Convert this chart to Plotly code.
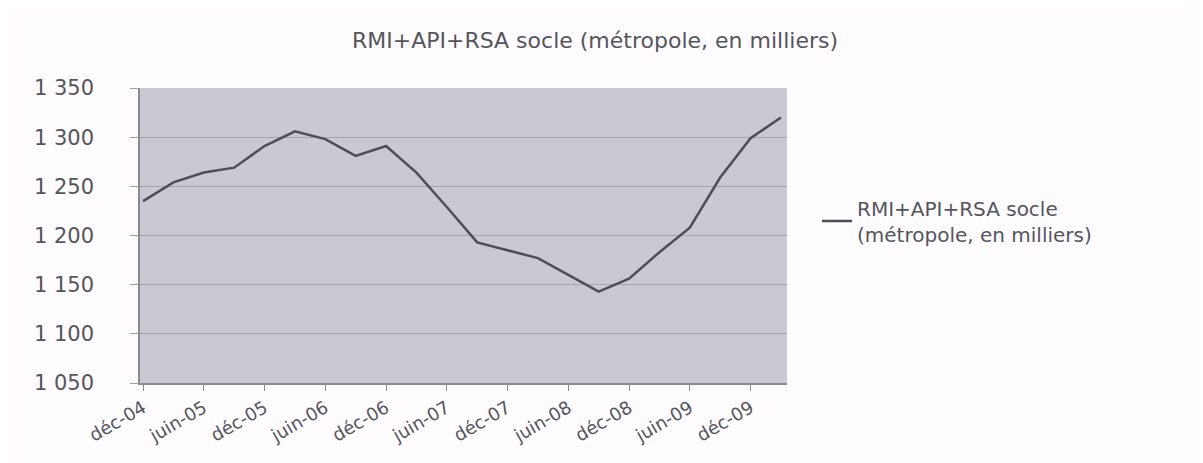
import plotly.graph_objects as go

periods = ["déc-04", "mars-05", "juin-05", "sept-05", "déc-05", "mars-06", "juin-06", "sept-06",
           "déc-06", "mars-07", "juin-07", "sept-07", "déc-07", "mars-08", "juin-08", "sept-08",
           "déc-08", "mars-09", "juin-09", "sept-09", "déc-09", "mars-10"]
values = [1235, 1254, 1264, 1269, 1291, 1306, 1298, 1281, 1291, 1264, 1229, 1193,
          1185, 1177, 1160, 1143, 1156, 1183, 1208, 1259, 1299, 1320]
tick_labels = ["déc-04", "juin-05", "déc-05", "juin-06", "déc-06", "juin-07",
               "déc-07", "juin-08", "déc-08", "juin-09", "déc-09"]
y_ticks = [1050, 1100, 1150, 1200, 1250, 1300, 1350]
y_tick_text = ["1 050", "1 100", "1 150", "1 200", "1 250", "1 300", "1 350"]
series_name = "RMI+API+RSA socle<br>(métropole, en milliers)"
title_text = "RMI+API+RSA socle (métropole, en milliers)"

x_idx = list(range(len(periods)))
tick_idx = [periods.index(t) for t in tick_labels]

FONT = "DejaVu Sans"
TXT = "#55555c"
OFF = 8  # page offset of the figure inside the browser window
W, H = 1203, 463
L, R, T, B = 140, 787, 88, 383  # plot area in window pixels

fig = go.Figure()
fig.add_trace(go.Scatter(
    x=x_idx, y=values, mode="lines", name=series_name,
    line=dict(color="#4e4e58", width=2.5),
    showlegend=True,
))

fig.update_layout(
    width=W, height=H,
    margin=dict(l=L - OFF, r=W + OFF - R, t=T - OFF, b=H + OFF - B),
    paper_bgcolor="#fefcfe",
    plot_bgcolor="#cac9d1",
    title=dict(text=title_text, x=(595 - OFF) / W, xanchor="center", y=1 - (40 - OFF) / H,
               yanchor="middle", font=dict(family=FONT, size=22, color=TXT)),
    showlegend=True,
    legend=dict(x=(817 - L) / (R - L), xanchor="left", y=(B - 221) / (B - T), yanchor="middle",
                font=dict(family=FONT, size=20, color=TXT), bgcolor="rgba(0,0,0,0)",
                itemwidth=30),
    xaxis=dict(
        range=[-0.1, 21.2], tickmode="array", tickvals=tick_idx, ticktext=tick_labels,
        tickangle=-30, ticks="outside", ticklen=6, tickcolor="#8a8a90",
        showline=True, linecolor="#8a8a90", linewidth=1.5, showgrid=False, zeroline=False,
        tickfont=dict(family=FONT, size=18, color=TXT),
    ),
    yaxis=dict(
        range=[1050, 1350], tickmode="array", tickvals=y_ticks, ticktext=y_tick_text,
        ticks="outside", ticklen=8, tickcolor="#a0a0a8", ticklabelstandoff=32,
        showline=True, linecolor="#8a8a90", linewidth=1.5,
        showgrid=True, gridcolor="#a5a4ac", gridwidth=1.2, zeroline=False,
        tickfont=dict(family=FONT, size=21, color=TXT),
    ),
)

fig.write_html("out.html")
